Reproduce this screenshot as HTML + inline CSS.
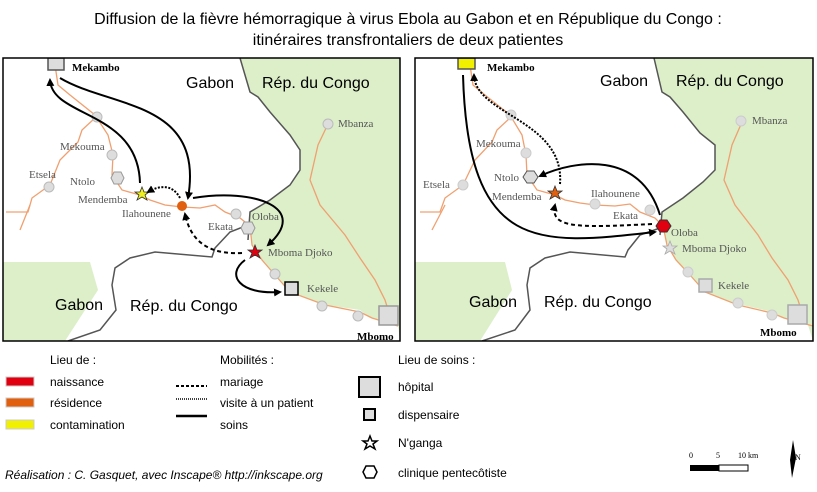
<!DOCTYPE html>
<html><head><meta charset="utf-8"><style>
html,body{margin:0;padding:0;background:#fff}
body{width:817px;height:487px;overflow:hidden}
svg text{font-family:"Liberation Sans",sans-serif}
svg text.s{font-family:"Liberation Serif",serif;fill:#555;font-size:11px}
svg text.b{font-family:"Liberation Serif",serif;font-weight:bold;font-size:11px}
svg text.sc{font-family:"Liberation Serif",serif;font-size:8px}
</style></head><body>
<svg width="817" height="487" viewBox="0 0 817 487" xmlns="http://www.w3.org/2000/svg">
<defs>
<marker id="ah" markerWidth="8" markerHeight="8" refX="6" refY="4" orient="auto" markerUnits="userSpaceOnUse"><path d="M0,0 L8,4 L0,8 z" fill="#000"/></marker>
<clipPath id="cl"><rect x="3" y="58" width="397" height="283"/></clipPath>
<clipPath id="cr"><rect x="415" y="58" width="398" height="283"/></clipPath>
</defs>
<text x="408" y="24" text-anchor="middle" font-size="16">Diffusion de la fièvre hémorragique à virus Ebola au Gabon et en République du Congo :</text>
<text x="408" y="45" text-anchor="middle" font-size="16">itinéraires transfrontaliers de deux patientes</text>

<!-- LEFT MAP -->
<g clip-path="url(#cl)">
<path d="M240,58 L400,58 L400,341 L398,325 L370,318 L360,310 L325,305 L290,292 L275,275 L262,260 L252,245 L250,225 L250,212 L270,200 L290,185 L300,170 L300,150 L290,135 L270,112 L258,97 L250,92 Z" fill="#dcefc9"/>
<path d="M3,262 L90,262 L98,290 L65,341 L3,341 Z" fill="#dcefc9"/>
<path d="M240,58 L250,92 L258,97 L270,112 L290,135 L300,150 L300,170 L290,185 L270,200 L250,212 L248,240" fill="none" stroke="#555" stroke-width="1.5"/>
<path d="M248,225 L230,232 L215,248 L212,257 L155,252 L130,258 L115,268 L112,285 L116,310 L100,330 L68,341" fill="none" stroke="#555" stroke-width="1.5"/>
<g fill="none" stroke="#f0a070" stroke-width="1.3">
<path d="M55,65 L58,85 L70,95 L95,115 L108,135 L113,155 L112,175 L122,190 L140,195 L150,200 L165,205 L182,207 L200,208 L215,205 L225,212 L240,218 L250,226 L252,245 L262,260 L275,275 L290,292 L325,305 L360,312 L372,318 L398,326"/>
<path d="M95,118 L82,130 L78,142 L60,160 L50,185 L32,198 L28,212 L6,212"/>
<path d="M30,205 L20,230"/>
<path d="M328,124 L318,145 L310,180 L320,205 L345,235 L360,258 L375,280 L385,300 L392,322"/>
</g>
<g fill="#ddd" stroke="#bbb"><circle cx="97" cy="117" r="5"/><circle cx="112" cy="155" r="5"/><circle cx="49" cy="187" r="5"/><circle cx="236" cy="214" r="5"/><circle cx="275" cy="274" r="5"/><circle cx="322" cy="306" r="5"/><circle cx="358" cy="316" r="5"/><circle cx="328" cy="124" r="5"/></g>
<polygon points="111,178 114,172 121,172 124,178 121,184 114,184" fill="#ddd" stroke="#999"/>
<polygon points="241,228 244,222 252,222 255,228 252,234 244,234" fill="#ddd" stroke="#999"/>
<rect x="48" y="58" width="16" height="12" fill="#ddd" stroke="#555" stroke-width="1.5"/>
<rect x="285" y="282" width="13" height="13" fill="#ddd" stroke="#000" stroke-width="1.5"/>
<rect x="379" y="306" width="19" height="19" fill="#ddd" stroke="#999" stroke-width="1.5"/>
<circle cx="182" cy="206" r="5" fill="#e06010"/>
<polygon points="142,187 144,192 149,192 145,195 147,200 142,197 137,200 139,195 135,192 140,192" fill="#f0f020" stroke="#333" stroke-width="0.8"/>
<polygon points="255,245 257,250 262,250 258,253 260,258 255,255 250,258 252,253 248,250 253,250" fill="#e00010" stroke="#333" stroke-width="0.8"/>
<g fill="none" stroke="#000" stroke-width="2">
<path d="M140,183 C138,110 52,118 50,80" marker-end="url(#ah)"/>
<path d="M60,78 C110,108 205,100 188,198" marker-end="url(#ah)"/>
<path d="M193,198 C255,188 310,208 268,245" marker-end="url(#ah)"/>
<path d="M245,260 C225,275 240,295 280,292" marker-end="url(#ah)"/>
<path d="M242,253 C205,255 190,238 185,214" stroke-dasharray="4,3" marker-end="url(#ah)"/>
<path d="M180,198 C172,183 158,186 148,192" stroke-dasharray="2,1.5" marker-end="url(#ah)"/>
</g>
<text x="72" y="71" class="b">Mekambo</text>
<text x="186" y="88" font-size="16">Gabon</text>
<text x="262" y="88" font-size="16">Rép. du Congo</text>
<text x="130" y="311" font-size="16">Rép. du Congo</text>
<text x="55" y="310" font-size="16">Gabon</text>
<text x="338" y="127" class="s">Mbanza</text>
<text x="60" y="150" class="s">Mekouma</text>
<text x="29" y="178" class="s">Etsela</text>
<text x="70" y="185" class="s">Ntolo</text>
<text x="78" y="203" class="s">Mendemba</text>
<text x="122" y="217" class="s">Ilahounene</text>
<text x="252" y="220" class="s">Oloba</text>
<text x="208" y="230" class="s">Ekata</text>
<text x="268" y="256" class="s">Mboma Djoko</text>
<text x="307" y="292" class="s">Kekele</text>
<text x="357" y="340" class="b">Mbomo</text>
</g>
<rect x="3" y="58" width="397" height="283" fill="none" stroke="#000" stroke-width="1.5"/>

<!-- RIGHT MAP -->
<g clip-path="url(#cr)">
<path d="M654,58 L813,58 L813,341 L808,325 L782,318 L772,312 L738,304 L705,292 L690,275 L676,260 L668,245 L662,226 L662,212 L683,198 L703,182 L715,170 L715,145 L700,133 L683,112 L670,97 L662,92 Z" fill="#dcefc9"/>
<path d="M415,262 L505,262 L512,290 L480,341 L415,341 Z" fill="#dcefc9"/>
<path d="M654,58 L662,92 L670,97 L683,112 L700,133 L715,145 L715,170 L703,182 L683,198 L662,212 L660,235" fill="none" stroke="#555" stroke-width="1.5"/>
<path d="M660,228 L640,235 L628,250 L625,257 L570,252 L545,258 L530,268 L527,285 L530,310 L515,330 L482,341" fill="none" stroke="#555" stroke-width="1.5"/>
<g fill="none" stroke="#f0a070" stroke-width="1.3">
<path d="M470,65 L473,85 L485,95 L510,115 L522,135 L526,155 L527,175 L537,190 L555,195 L565,200 L580,203 L595,205 L615,206 L630,204 L640,212 L655,218 L663,226 L667,245 L676,260 L690,275 L705,292 L738,305 L772,313 L784,318 L813,326"/>
<path d="M510,118 L497,130 L492,142 L475,160 L463,185 L445,198 L440,212 L420,212"/>
<path d="M445,205 L432,230"/>
<path d="M742,122 L732,145 L724,180 L735,205 L758,235 L772,258 L788,280 L798,300 L805,322"/>
</g>
<g fill="#ddd" stroke="#ccc"><circle cx="511" cy="115" r="5"/><circle cx="526" cy="153" r="5"/><circle cx="463" cy="185" r="5"/><circle cx="595" cy="204" r="5"/><circle cx="650" cy="210" r="5"/><circle cx="688" cy="272" r="5"/><circle cx="738" cy="303" r="5"/><circle cx="772" cy="315" r="5"/><circle cx="741" cy="121" r="5"/></g>
<polygon points="523,177 527,171 534,171 538,177 534,183 527,183" fill="#ddd" stroke="#555"/>
<polygon points="656,226 660,220 667,220 671,226 667,232 660,232" fill="#e00010" stroke="#333"/>
<rect x="458" y="58" width="17" height="11" fill="#f0f000" stroke="#555" stroke-width="1.5"/>
<rect x="699" y="279" width="13" height="13" fill="#ddd" stroke="#aaa" stroke-width="1.5"/>
<rect x="788" y="305" width="19" height="19" fill="#ddd" stroke="#aaa" stroke-width="1.5"/>
<polygon points="555,186 557,191 562,191 558,194 560,199 555,196 550,199 552,194 548,191 553,191" fill="#e06010" stroke="#333" stroke-width="0.8"/>
<polygon points="670,241 672,246 677,246 673,249 675,254 670,251 665,254 667,249 663,246 668,246" fill="#ddd" stroke="#aaa" stroke-width="0.8"/>
<g fill="none" stroke="#000" stroke-width="2">
<path d="M463,75 C468,255 540,245 655,232" marker-end="url(#ah)"/>
<path d="M660,215 C640,150 575,160 540,176" marker-end="url(#ah)"/>
<path d="M560,184 C565,120 475,115 474,75" stroke-dasharray="2,1.5" marker-end="url(#ah)"/>
<path d="M652,224 C575,228 550,228 555,205" stroke-dasharray="4,3" marker-end="url(#ah)"/>
</g>
<text x="487" y="71" class="b">Mekambo</text>
<text x="600" y="86" font-size="16">Gabon</text>
<text x="676" y="86" font-size="16">Rép. du Congo</text>
<text x="469" y="307" font-size="16">Gabon</text>
<text x="544" y="307" font-size="16">Rép. du Congo</text>
<text x="752" y="124" class="s">Mbanza</text>
<text x="476" y="147" class="s">Mekouma</text>
<text x="423" y="188" class="s">Etsela</text>
<text x="494" y="181" class="s">Ntolo</text>
<text x="492" y="200" class="s">Mendemba</text>
<text x="591" y="197" class="s">Ilahounene</text>
<text x="613" y="219" class="s">Ekata</text>
<text x="671" y="236" class="s">Oloba</text>
<text x="682" y="252" class="s">Mboma Djoko</text>
<text x="718" y="289" class="s">Kekele</text>
<text x="760" y="336" class="b">Mbomo</text>
</g>
<rect x="415" y="58" width="398" height="283" fill="none" stroke="#000" stroke-width="1.5"/>

<!-- LEGEND -->
<g font-size="12">
<text x="50" y="364">Lieu de :</text>
<rect x="6" y="377" width="28" height="9" fill="#e00010" stroke="#ccc"/>
<text x="50" y="386">naissance</text>
<rect x="6" y="398" width="28" height="9" fill="#e06010" stroke="#ccc"/>
<text x="50" y="407">résidence</text>
<rect x="6" y="420" width="28" height="9" fill="#f0f000" stroke="#ccc"/>
<text x="50" y="429">contamination</text>
<text x="220" y="364">Mobilités :</text>
<line x1="176" y1="386" x2="207" y2="386" stroke="#000" stroke-width="2" stroke-dasharray="3,2"/>
<text x="220" y="386">mariage</text>
<line x1="176" y1="399" x2="207" y2="399" stroke="#000" stroke-width="1.5" stroke-dasharray="1,1"/>
<text x="220" y="407">visite à un patient</text>
<line x1="176" y1="416" x2="207" y2="416" stroke="#000" stroke-width="2.5"/>
<text x="220" y="429">soins</text>
<text x="398" y="364">Lieu de soins :</text>
<rect x="359" y="377" width="21" height="20" fill="#ddd" stroke="#000" stroke-width="2"/>
<text x="398" y="391">hôpital</text>
<rect x="364" y="409" width="11" height="11" fill="#ddd" stroke="#000" stroke-width="2"/>
<text x="398" y="419">dispensaire</text>
<polygon points="370,436 372,441 377,441 373,444 375,449 370,446 365,449 367,444 363,441 368,441" fill="#fff" stroke="#000" stroke-width="1.5"/>
<text x="398" y="447">N'ganga</text>
<polygon points="363,472 366,466 374,466 377,472 374,478 366,478" fill="#fff" stroke="#000" stroke-width="1.5"/>
<text x="398" y="477">clinique pentecôtiste</text>
<text x="5" y="479" font-style="italic">Réalisation : C. Gasquet, avec Inscape® http://inkscape.org</text>
</g>
<text x="689" y="458" class="sc">0</text><text x="716" y="458" class="sc">5</text><text x="738" y="458" class="sc">10 km</text>
<rect x="690" y="465" width="29" height="6" fill="#000"/>
<rect x="719" y="465" width="29" height="6" fill="#fff" stroke="#000"/>
<polygon points="793,440 796,458 792,478 790,460" fill="#000"/>
<text x="795" y="460" class="sc">N</text>
</svg>
</body></html>
